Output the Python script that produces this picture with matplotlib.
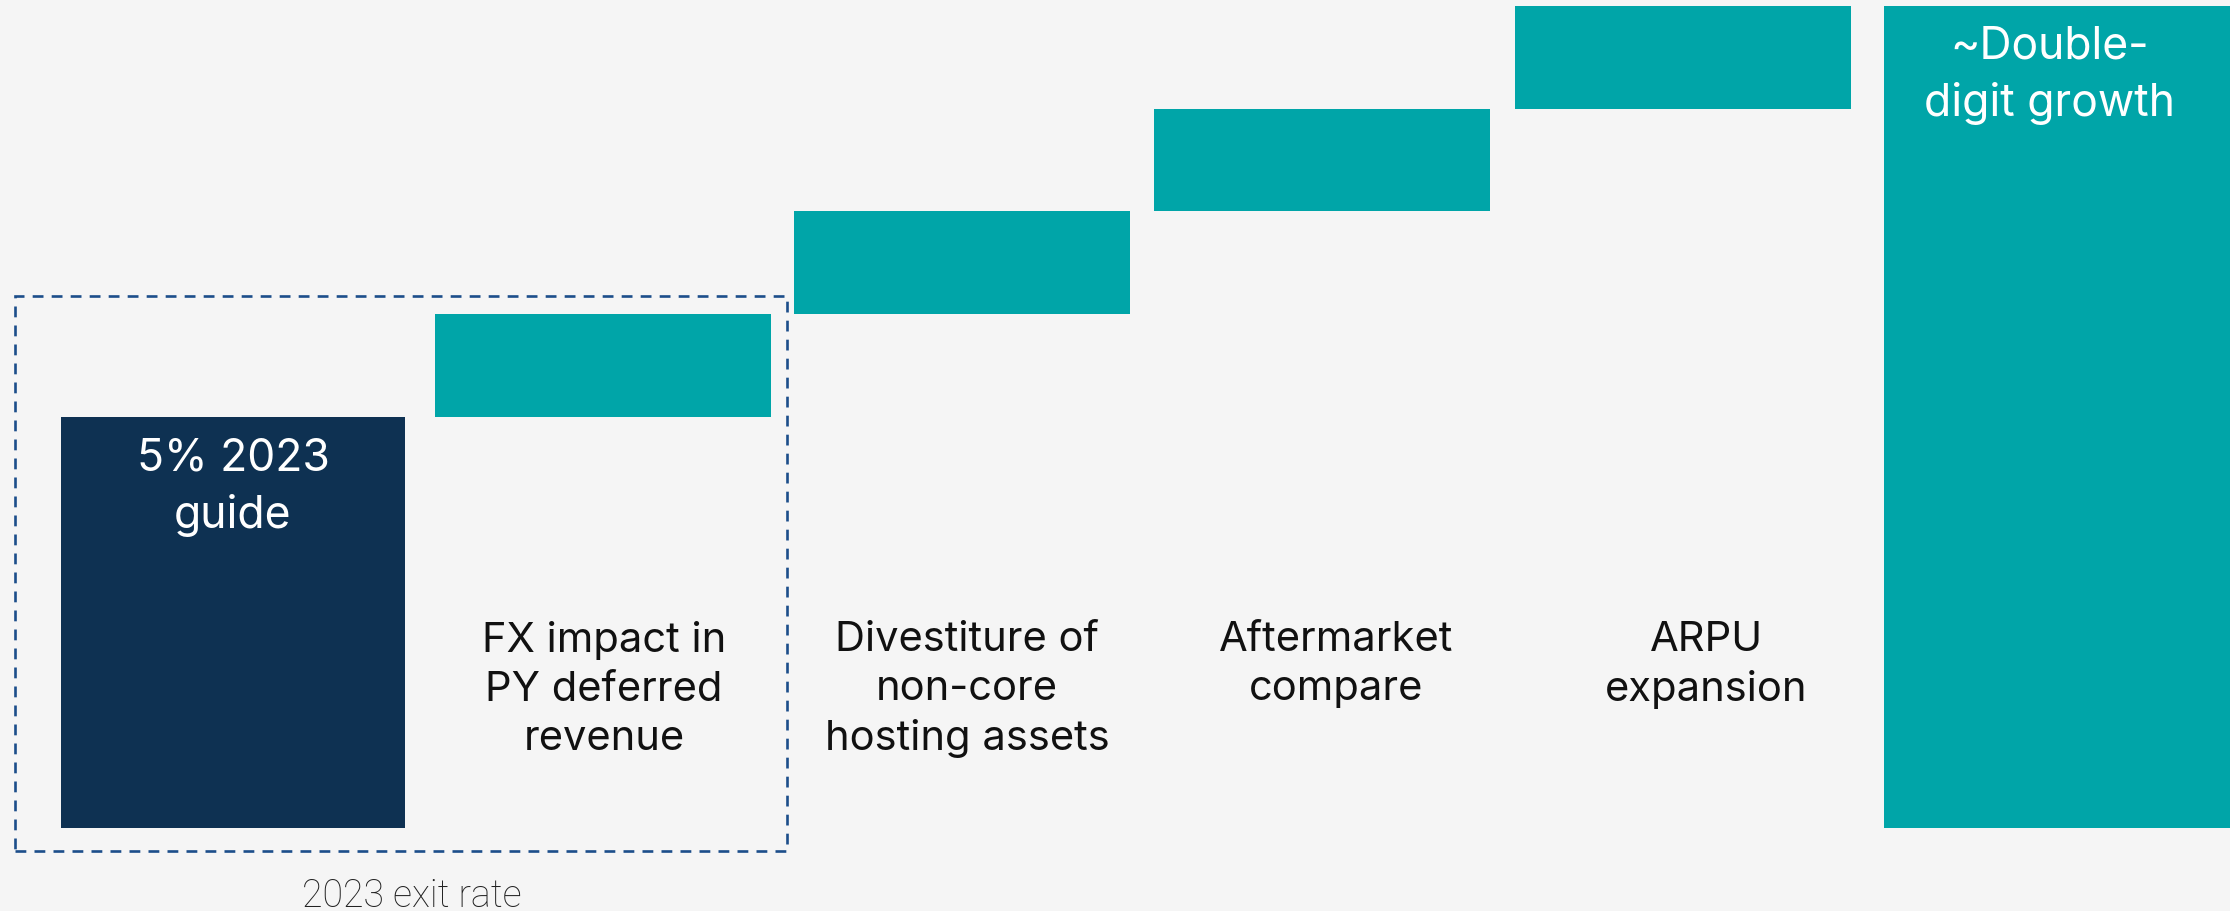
import matplotlib
matplotlib.use("Agg")
import matplotlib.pyplot as plt
from matplotlib.patches import Rectangle

# Bridge from the 2023 guide to double-digit growth
categories = ["5% 2023\nguide",
              "FX impact in\nPY deferred\nrevenue",
              "Divestiture of\nnon-core\nhosting assets",
              "Aftermarket\ncompare",
              "ARPU\nexpansion",
              "~Double-\ndigit growth"]
base_value = 5.0
step_values = [1.25, 1.25, 1.25, 1.25]
total_value = 10.0
group_label = "2023 exit rate"

BG = "#f5f5f5"
NAVY = "#0e3152"
TEAL = "#00a5a8"
DASH = "#1c4e8a"

plt.rcParams["font.family"] = ["Inter", "DejaVu Sans"]

fig = plt.figure(figsize=(22.3, 9.12), dpi=100, facecolor=BG)
ax = fig.add_axes([0, 0, 1, 1])
ax.set_facecolor(BG)

xpos = [0.0, 1.022, 2.014, 3.008, 4.006, 5.039]
label_shift = [0.0, 0.003, 0.014, 0.04, 0.064, 0.0]
width = 0.93

# starting bar
ax.bar(xpos[0], base_value, width=0.95, color=NAVY, align="center")

# floating step bars
running = base_value
for x, v in zip(xpos[1:5], step_values):
    ax.bar(x, v, bottom=running, width=width, color=TEAL)
    running += v

# ending bar
ax.bar(xpos[5], total_value, width=0.955, color=TEAL)

ax.set_xlim(-0.6436, 5.5166)
ax.set_ylim(-1.01, 10.085)
ax.axis("off")

# labels inside the bars
ax.text(xpos[0], 4.76, categories[0], color="white", fontsize=32,
        ha="center", va="top", linespacing=1.43)
ax.text(xpos[5] - 0.02, 9.78, categories[5], color="white", fontsize=32,
        ha="center", va="top", linespacing=1.43)

# labels under the step bars
for i in range(1, 5):
    ax.text(xpos[i] + label_shift[i], 2.53, categories[i], color="#111111",
            fontsize=30, ha="center", va="top", linespacing=1.36)

# dashed bracket around the 2023 exit rate
ax.add_patch(Rectangle((-0.602, -0.28), 2.132, 6.75, fill=False,
                       edgecolor=DASH, linewidth=1.9,
                       linestyle=(0, (4.1, 3.1))))
ax.text(0.494, -0.95, group_label, color="#222222", fontsize=27,
        fontfamily=["Roboto", "DejaVu Sans"], fontweight="light",
        ha="center", va="baseline")

fig.savefig("out.png", dpi=100, facecolor=BG)
